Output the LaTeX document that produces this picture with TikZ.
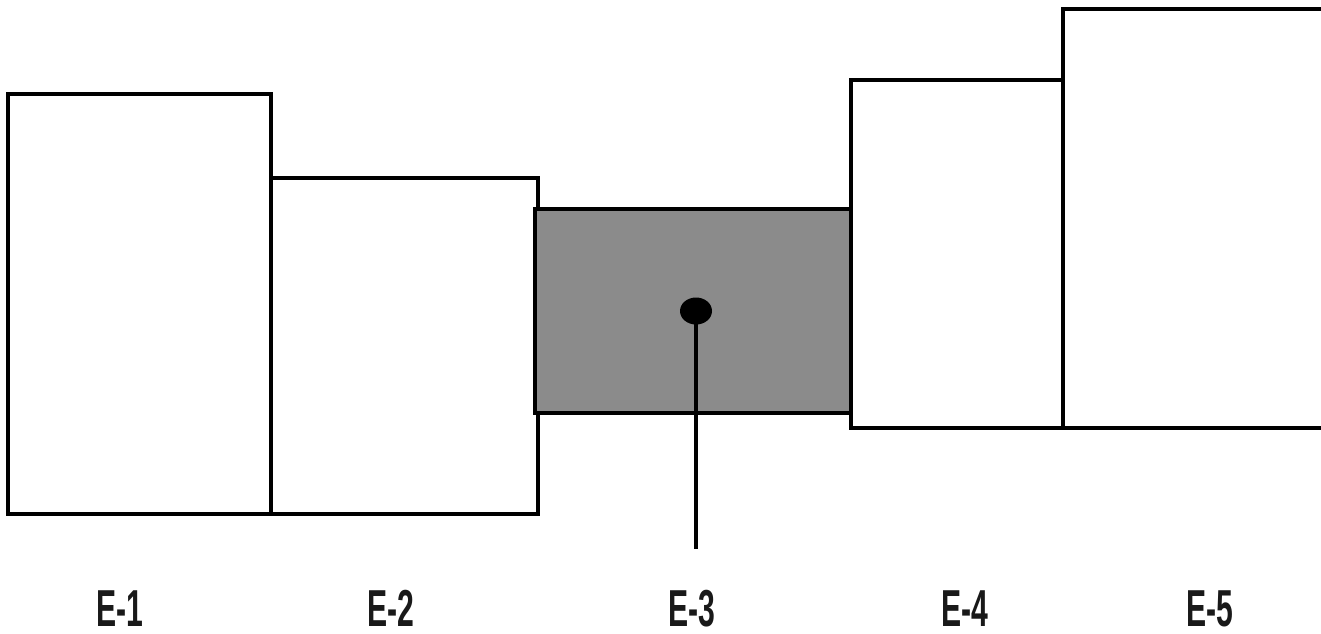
\documentclass[tikz,border=0pt]{standalone}
\usepackage{fontspec}
\setmainfont{Liberation Sans}[FakeStretch=0.58,UprightFont=* Bold]
\usetikzlibrary{shapes.geometric}
\begin{document}
\begin{tikzpicture}[x=1pt,y=-1pt,
  blk/.style={draw=black,line width=4.5pt,fill=white,rectangle,inner sep=0pt,outer sep=0pt},
  lbl/.style={font=\fontsize{52}{52}\selectfont,anchor=base,inner sep=0pt,text=black!90}]
\useasboundingbox (0,0) rectangle (1321,633);
\node[blk,minimum width=263pt,minimum height=420pt] (e1) at (139.5,304) {};
\node[blk,minimum width=267pt,minimum height=336pt] (e2) at (404.5,346) {};
\node[blk,fill={rgb,255:red,139;green,139;blue,139},minimum width=316pt,minimum height=204pt] (e3) at (693,311) {};
\node[blk,minimum width=212pt,minimum height=348pt] (e4) at (957,254) {};
\node[blk,minimum width=264pt,minimum height=419pt] (e5) at (1195,218.5) {};
\node[ellipse,fill=black,minimum width=32pt,minimum height=27pt,inner sep=0pt] (dot) at (696,311) {};
\coordinate (tail) at (696,549);
\draw[line width=4.5pt] (dot.center) -- (tail);
\node[lbl] (l1) at (120,626) {E-1};
\node[lbl] (l2) at (391,626) {E-2};
\node[lbl] (l3) at (692,626) {E-3};
\node[lbl] (l4) at (965,626) {E-4};
\node[lbl] (l5) at (1210,626) {E-5};
\end{tikzpicture}
\end{document}
